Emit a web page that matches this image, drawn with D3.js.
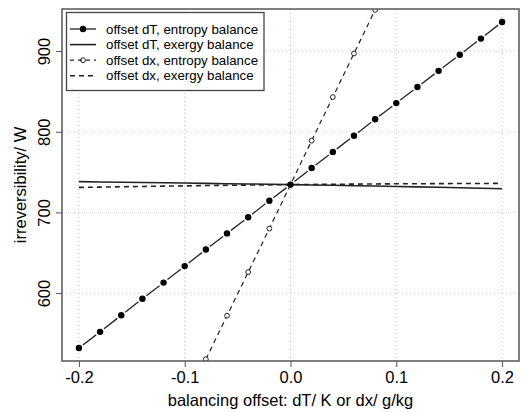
<!DOCTYPE html>
<html>
<head>
<meta charset="utf-8">
<script src="https://cdn.jsdelivr.net/npm/d3@7/dist/d3.min.js"></script>
<style>
  html, body { margin: 0; padding: 0; background: #fff; }
  svg { display: block; font-family: "Liberation Sans", Arial, sans-serif; }
</style>
</head>
<body>
<div id="chart"></div>
<script>
// balancing offsets (x values)
const offsets = [-0.2, -0.18, -0.16, -0.14, -0.12, -0.1, -0.08, -0.06, -0.04, -0.02, 0,
  0.02, 0.04, 0.06, 0.08, 0.1, 0.12, 0.14, 0.16, 0.18, 0.2];

// offset dT, entropy balance
const dTEntropy = [532, 552, 572.5, 593, 613, 633.5, 654, 674, 694, 714.5, 734.5,
  755, 775, 795, 815.5, 835.5, 855.5, 875.5, 895.5, 915.5, 936];

// offset dT, exergy balance
const dTExergy = [738.2, 737.8, 737.5, 737.1, 736.8, 736.4, 736.0, 735.6, 735.3, 734.9, 734.5,
  734.0, 733.6, 733.1, 732.7, 732.2, 731.7, 731.2, 730.6, 730.0, 729.4];

// offset dx, entropy balance (only the visible part)
const dxOffsets = [-0.08, -0.06, -0.04, -0.02, 0, 0.02, 0.04, 0.06, 0.08];
const dxEntropy = [518, 572, 626, 680, 734.5, 789, 843, 897, 951];

// offset dx, exergy balance
const dxExergy = [731.0, 731.4, 731.8, 732.2, 732.6, 732.9, 733.3, 733.6, 733.9, 734.2, 734.5,
  734.7, 734.9, 735.1, 735.3, 735.5, 735.6, 735.7, 735.8, 735.9, 736.0];

const xTicks = [-0.2, -0.1, 0, 0.1, 0.2];
const yTicks = [600, 700, 800, 900];

const legendLabels = [
  'offset dT, entropy balance',
  'offset dT, exergy balance',
  'offset dx, entropy balance',
  'offset dx, exergy balance',
];

const width = 521, height = 412;
const box = { left: 62, right: 519, top: 9, bottom: 361 };

// R style 4% axis extension
const pad = (lo, hi) => [lo - (hi - lo) * 0.04, hi + (hi - lo) * 0.04];

const x = d3.scaleLinear()
  .domain(pad(d3.min(offsets), d3.max(offsets)))
  .range([box.left, box.right]);
const y = d3.scaleLinear()
  .domain(pad(d3.min(dTEntropy), d3.max(dTEntropy)))
  .range([box.bottom, box.top]);

const svg = d3.select('#chart').append('svg')
  .attr('width', width)
  .attr('height', height);

svg.append('defs').append('clipPath').attr('id', 'clip')
  .append('rect')
  .attr('x', box.left).attr('y', box.top)
  .attr('width', box.right - box.left).attr('height', box.bottom - box.top);

// grid
const grid = svg.append('g')
  .attr('stroke', '#c4c4c4')
  .attr('stroke-width', 1)
  .attr('stroke-dasharray', '1,3');
grid.selectAll('.gx').data(xTicks).join('line')
  .attr('x1', d => x(d)).attr('x2', d => x(d))
  .attr('y1', box.top).attr('y2', box.bottom);
grid.selectAll('.gy').data(yTicks).join('line')
  .attr('y1', d => y(d)).attr('y2', d => y(d))
  .attr('x1', box.left).attr('x2', box.right);

// axes
const xAxis = svg.append('g')
  .attr('transform', `translate(0,${box.bottom})`)
  .call(d3.axisBottom(x).tickValues(xTicks).tickSize(6).tickPadding(4));
const yAxis = svg.append('g')
  .attr('transform', `translate(${box.left},0)`)
  .call(d3.axisLeft(y).tickValues(yTicks).tickSize(6));
[xAxis, yAxis].forEach(a => {
  a.select('.domain').remove();
  a.selectAll('line').attr('stroke', '#555');
  a.selectAll('text').attr('font-size', 16.5).attr('fill', '#000')
    .attr('font-family', '"Liberation Sans", Arial, sans-serif');
});
xAxis.selectAll('text').text(d => d.toFixed(1).replace('-0.0', '0.0'));
yAxis.selectAll('text')
  .attr('x', null).attr('dy', null)
  .attr('text-anchor', 'middle')
  .attr('transform', 'translate(-12,0) rotate(-90)');

// axis titles
svg.append('text')
  .attr('x', (box.left + box.right) / 2)
  .attr('y', 406)
  .attr('text-anchor', 'middle')
  .attr('font-size', 16.5)
  .text('balancing offset: dT/ K or dx/ g/kg');
svg.append('text')
  .attr('transform', `translate(26,${(box.top + box.bottom) / 2}) rotate(-90)`)
  .attr('text-anchor', 'middle')
  .attr('font-size', 16.5)
  .text('irreversibility/ W');

const plot = svg.append('g').attr('clip-path', 'url(#clip)');
const line = d3.line().x(d => x(d[0])).y(d => y(d[1]));

// dT exergy: solid line
plot.append('path')
  .datum(offsets.map((o, i) => [o, dTExergy[i]]))
  .attr('d', line)
  .attr('fill', 'none').attr('stroke', '#222').attr('stroke-width', 1.6);

// dx exergy: dashed line
plot.append('path')
  .datum(offsets.map((o, i) => [o, dxExergy[i]]))
  .attr('d', line)
  .attr('fill', 'none').attr('stroke', '#222').attr('stroke-width', 1.6)
  .attr('stroke-dasharray', '5,4');

// dx entropy: dashed line with open circles
const dxPts = dxOffsets.map((o, i) => [o, dxEntropy[i]]);
plot.append('path')
  .datum(dxPts)
  .attr('d', line)
  .attr('fill', 'none').attr('stroke', '#222').attr('stroke-width', 1.2)
  .attr('stroke-dasharray', '5,4');
plot.selectAll('.open').data(dxPts).join('circle')
  .attr('cx', d => x(d[0])).attr('cy', d => y(d[1]))
  .attr('r', 2.4)
  .attr('fill', '#fff').attr('stroke', '#222').attr('stroke-width', 1);

// dT entropy: type "b" (segments with gaps around filled points)
const dTPts = offsets.map((o, i) => [o, dTEntropy[i]]);
const gap = 5;
plot.selectAll('.seg').data(d3.pairs(dTPts)).join('line')
  .each(function ([a, b]) {
    const x1 = x(a[0]), y1 = y(a[1]), x2 = x(b[0]), y2 = y(b[1]);
    const len = Math.hypot(x2 - x1, y2 - y1);
    const ux = (x2 - x1) / len, uy = (y2 - y1) / len;
    d3.select(this)
      .attr('x1', x1 + ux * gap).attr('y1', y1 + uy * gap)
      .attr('x2', x2 - ux * gap).attr('y2', y2 - uy * gap);
  })
  .attr('stroke', '#222').attr('stroke-width', 1.3);
plot.selectAll('.filled').data(dTPts).join('circle')
  .attr('cx', d => x(d[0])).attr('cy', d => y(d[1]))
  .attr('r', 3.2)
  .attr('fill', '#000');

// box
svg.append('rect')
  .attr('x', box.left).attr('y', box.top)
  .attr('width', box.right - box.left).attr('height', box.bottom - box.top)
  .attr('fill', 'none').attr('stroke', '#555').attr('stroke-width', 1.5);

// legend
const legend = svg.append('g');
legend.append('rect')
  .attr('x', 66.5).attr('y', 12.5).attr('width', 197.5).attr('height', 78)
  .attr('fill', '#fff').attr('stroke', '#444').attr('stroke-width', 1.3);
const rowY = i => 29 + i * 15.6;
legendLabels.forEach((label, i) => {
  legend.append('text')
    .attr('x', 106).attr('y', rowY(i)).attr('dy', '0.35em')
    .attr('font-size', 13.3)
    .text(label);
});
// entropy dT sample
const l0 = legend.append('g').attr('transform', `translate(0,${rowY(0)})`);
l0.append('line').attr('x1', 70).attr('x2', 96).attr('stroke', '#222').attr('stroke-width', 1.3);
l0.append('circle').attr('cx', 83).attr('r', 3.2).attr('fill', '#000');
// exergy dT sample
legend.append('line').attr('x1', 70).attr('x2', 96)
  .attr('y1', rowY(1)).attr('y2', rowY(1))
  .attr('stroke', '#222').attr('stroke-width', 1.6);
// entropy dx sample
const l2 = legend.append('g').attr('transform', `translate(0,${rowY(2)})`);
l2.append('line').attr('x1', 70).attr('x2', 96)
  .attr('stroke', '#222').attr('stroke-width', 1.2).attr('stroke-dasharray', '4,4');
l2.append('circle').attr('cx', 83).attr('r', 2.4)
  .attr('fill', 'none').attr('stroke', '#222').attr('stroke-width', 1);
// exergy dx sample
legend.append('line').attr('x1', 70).attr('x2', 96)
  .attr('y1', rowY(3)).attr('y2', rowY(3))
  .attr('stroke', '#222').attr('stroke-width', 1.6).attr('stroke-dasharray', '5,4');
</script>
</body>
</html>
